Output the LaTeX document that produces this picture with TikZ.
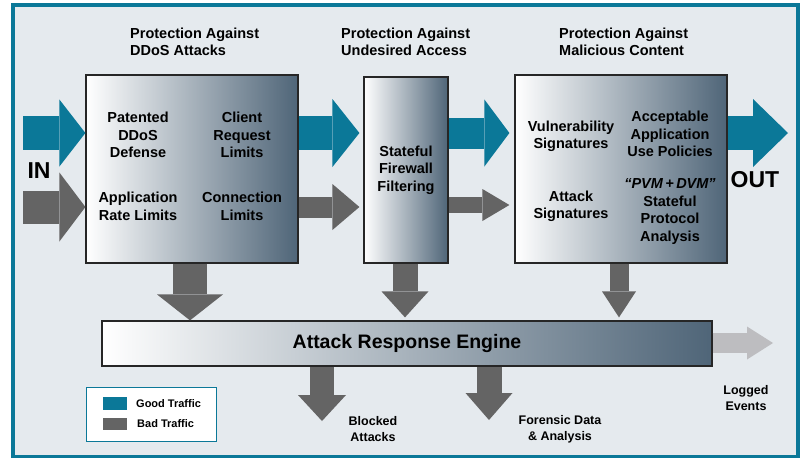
\documentclass[tikz,border=0pt]{standalone}
\usepackage{fontspec}
\setmainfont{Liberation Sans}
\usetikzlibrary{arrows.meta,calc}

\definecolor{brandteal}{HTML}{0B7898}
\definecolor{badgray}{HTML}{646464}
\definecolor{loggray}{HTML}{BDBDC0}
\definecolor{bgblue}{HTML}{E5EAEE}
\definecolor{slate}{HTML}{4F6578}

\begin{document}
\begin{tikzpicture}[x=1pt,y=-1pt,
    box/.style={draw=black!85,line width=1.2pt,left color=white,right color=slate,inner sep=0pt},
    heading/.style={font=\fontsize{14.5}{17}\selectfont\bfseries,align=left,anchor=west,inner sep=0pt},
    boxtext/.style={font=\fontsize{14.5}{17.5}\selectfont\bfseries,align=center,inner sep=0pt},
    small/.style={font=\fontsize{12.5}{16}\selectfont\bfseries,align=center,inner sep=0pt},
    keytext/.style={font=\fontsize{11}{13}\selectfont\bfseries,anchor=west,inner sep=0pt},
    big/.style={font=\fontsize{23}{25}\selectfont\bfseries,inner sep=0pt},
    good/.style={draw=brandteal},
    bad/.style={draw=badgray},
    logflow/.style={draw=loggray},
    fat/.style n args={3}{line width=#1,-{Triangle[length=#3,width=#2,line width=0pt]}}
]
\useasboundingbox (0,0) rectangle (804,458);
\draw[draw=brandteal,line width=4pt,fill=bgblue] (13,5) rectangle (798,457);

% headings
\node[heading] (hddos) at (130,41.5) {Protection Against\\DDoS Attacks};
\node[heading] (hfw) at (341,41.5) {Protection Against\\Undesired Access};
\node[heading] (hmal) at (559,41.5) {Protection Against\\Malicious Content};

% stages
\node[box,minimum width=212pt,minimum height=188pt] (ddos) at (192,169) {};
\node[box,minimum width=84pt,minimum height=186pt] (fw) at (406,170) {};
\node[box,minimum width=212pt,minimum height=188pt] (mal) at (621,169) {};
\node[box,minimum width=610pt,minimum height=45pt,font=\fontsize{19.5}{22}\selectfont\bfseries] (engine) at (407,343.5) {Attack Response Engine};

\node[boxtext] (patent) at (138,135) {Patented\\DDoS\\Defense};
\node[boxtext] (client) at (242,135) {Client\\Request\\Limits};
\node[boxtext] (apprate) at (138,206.5) {Application\\Rate Limits};
\node[boxtext] (conn) at (242,206.5) {Connection\\Limits};
\node[boxtext] (stateful) at (406,170) {Stateful\\Firewall\\Filtering};
\node[boxtext] (vuln) at (571,136.5) {Vulnerability\\Signatures};
\node[boxtext] (policy) at (670,134) {Acceptable\\Application\\Use Policies};
\node[boxtext] (attsig) at (571,206.5) {Attack\\Signatures};
\node[boxtext] (pvm) at (670,211.5) {\textit{“PVM\,+\,DVM”}\\Stateful\\Protocol\\Analysis};

% traffic
\coordinate (goodrow) at (0,133);
\coordinate (badrow) at (0,207);
\coordinate (inA) at (23,133);
\coordinate (inB) at (23,207);
\coordinate (outend) at (788,133);
\draw[good,fat={34pt}{67pt}{26pt}] (inA) -- (ddos.west |- goodrow);
\draw[bad,fat={33pt}{69pt}{26pt}] (inB) -- (ddos.west |- badrow);
\draw[good,fat={34pt}{68pt}{27pt}] (ddos.east |- goodrow) -- ($(fw.west |- goodrow)+(-4,0)$);
\draw[bad,fat={21pt}{46pt}{27pt}] (ddos.east |- badrow) -- ($(fw.west |- badrow)+(-4,0)$);
\draw[good,fat={31pt}{67pt}{25pt}] (fw.east |- goodrow) -- ($(mal.west |- goodrow)+(-5,0)$);
\draw[bad,fat={16pt}{32pt}{27pt}] (fw.east |- 0,205) -- ($(mal.west |- 0,205)+(-5,0)$);
\draw[good,fat={34pt}{68pt}{35pt}] (mal.east |- goodrow) -- (outend);
\node[big] (intext) at (39,170.5) {IN};
\node[big] (outtext) at (755,179.5) {OUT};

% to and from the engine
\draw[bad,fat={34pt}{66pt}{26pt}] (ddos.south -| 190,0) -- (engine.north -| 190,0);
\draw[bad,fat={25pt}{47pt}{26pt}] (fw.south -| 405,0) -- ($(engine.north -| 405,0)+(0,-3)$);
\draw[bad,fat={19pt}{34pt}{26pt}] (mal.south -| 619,0) -- ($(engine.north -| 619,0)+(0,-3)$);
\coordinate (blockend) at (322,421);
\coordinate (forend) at (489,420);
\coordinate (logend) at (773,343);
\draw[bad,fat={24pt}{48pt}{26pt}] (engine.south -| blockend) -- (blockend);
\draw[bad,fat={25pt}{47pt}{27pt}] (engine.south -| forend) -- (forend);
\draw[logflow,fat={20pt}{33pt}{26pt}] (engine.east |- logend) -- (logend);
\node[small] (blocked) at (373,429) {Blocked\\Attacks};
\node[small] (forensic) at (560,429) {Forensic Data\\\& Analysis};
\node[small] (logged) at (746,398.5) {Logged\\Events};

% legend
\node[draw=brandteal,fill=white,line width=1pt,minimum width=130pt,minimum height=54pt] (legend) at (151,414) {};
\node[fill=brandteal,minimum width=24pt,minimum height=13pt,inner sep=0pt] (goodkey) at (115,403.5) {};
\node[fill=badgray,minimum width=24pt,minimum height=12pt,inner sep=0pt] (badkey) at (115,424) {};
\node[keytext] (goodlbl) at (136,404) {Good Traffic};
\node[keytext] (badlbl) at (137,424) {Bad Traffic};
\end{tikzpicture}
\end{document}
